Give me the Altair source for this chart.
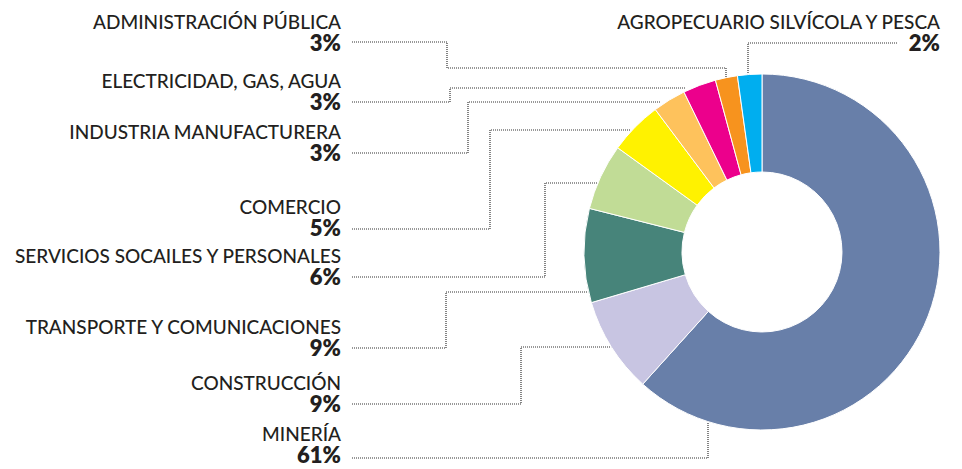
import altair as alt
import pandas as pd

# ---- data (clockwise from 12 o'clock) ----
sectors = ["MINERÍA", "CONSTRUCCIÓN", "TRANSPORTE Y COMUNICACIONES",
           "SERVICIOS SOCAILES Y PERSONALES", "COMERCIO", "INDUSTRIA MANUFACTURERA",
           "ELECTRICIDAD, GAS, AGUA", "ADMINISTRACIÓN PÚBLICA",
           "AGROPECUARIO SILVÍCOLA Y PESCA"]
shares = [61.5, 8.7, 8.5, 6.0, 4.8, 3.0, 3.0, 2.0, 2.2]      # slice sizes
pct_labels = ["61%", "9%", "9%", "6%", "5%", "3%", "3%", "3%", "2%"]
colors = ["#687fa9", "#c8c5e2", "#47847a", "#c1dc96", "#fff200",
          "#fec25c", "#ec008c", "#f7931e", "#00aeef"]

# ---- layout (image pixel coordinates) ----
W, H, M = 946, 461, 8
CX, CY, R_OUT, R_IN = 762, 252, 178, 80
# label: (pct baseline y, x anchor)
label_pos = {
    "ADMINISTRACIÓN PÚBLICA": (51, 341),
    "ELECTRICIDAD, GAS, AGUA": (110, 341),
    "INDUSTRIA MANUFACTURERA": (161, 341),
    "COMERCIO": (236, 341),
    "SERVICIOS SOCAILES Y PERSONALES": (285, 341),
    "TRANSPORTE Y COMUNICACIONES": (356, 341),
    "CONSTRUCCIÓN": (412, 341),
    "MINERÍA": (463, 341),
    "AGROPECUARIO SILVÍCOLA Y PESCA": (51, 940),
}
NAME_GAP = 22
leaders = {
    "ADMINISTRACIÓN PÚBLICA": [(352, 42), (447, 42), (447, 68), (726, 68), (726, 79)],
    "ELECTRICIDAD, GAS, AGUA": [(352, 102), (450, 102), (450, 88), (686, 88)],
    "INDUSTRIA MANUFACTURERA": [(352, 153), (468, 153), (468, 102), (660, 102)],
    "COMERCIO": [(352, 229), (490, 229), (490, 130), (630, 130)],
    "SERVICIOS SOCAILES Y PERSONALES": [(352, 277), (545, 277), (545, 183), (597, 183)],
    "TRANSPORTE Y COMUNICACIONES": [(352, 348), (446, 348), (446, 292), (588, 292)],
    "CONSTRUCCIÓN": [(352, 404), (521, 404), (521, 347), (612, 347)],
    "MINERÍA": [(352, 458), (708, 458), (708, 423)],
    "AGROPECUARIO SILVÍCOLA Y PESCA": [(897, 43), (748, 43), (748, 75)],
}

pie_df = pd.DataFrame({"sector": sectors, "share": shares,
                       "ord": list(range(len(sectors)))})

lab_rows = []
for s, p in zip(sectors, pct_labels):
    py, x = label_pos[s]
    lab_rows.append({"sector": s, "pct": p, "x": x, "ny": py - NAME_GAP, "py": py})
lab_df = pd.DataFrame(lab_rows)

lead_rows = []
for s, pts in leaders.items():
    for i, (x, y) in enumerate(pts):
        lead_rows.append({"sector": s, "i": i, "x": x, "y": y})
lead_df = pd.DataFrame(lead_rows)

xs = alt.Scale(domain=[M, M + W], range=[0, W], nice=False, zero=False)
ys = alt.Scale(domain=[M, M + H], range=[0, H], nice=False, zero=False)

pie = alt.Chart(pie_df).mark_arc(
    outerRadius=R_OUT, innerRadius=R_IN, stroke="white", strokeWidth=1
).encode(
    theta=alt.Theta("share:Q", stack=True),
    order=alt.Order("ord:Q"),
    color=alt.Color("sector:N", scale=alt.Scale(domain=sectors, range=colors), legend=None),
    x=alt.value(CX - M),
    y=alt.value(CY - M),
)

lines = alt.Chart(lead_df).mark_line(
    color="#333333", strokeWidth=1.2, strokeDash=[1, 1], interpolate="linear"
).encode(
    x=alt.X("x:Q", scale=xs, axis=None),
    y=alt.Y("y:Q", scale=ys, axis=None),
    detail="sector:N",
    order="i:Q",
)

names = alt.Chart(lab_df).mark_text(
    align="right", baseline="alphabetic", font="Lato", fontSize=19, fontWeight=500,
    color="#231f20"
).encode(
    x=alt.X("x:Q", scale=xs, axis=None),
    y=alt.Y("ny:Q", scale=ys, axis=None),
    text="sector:N",
)

pcts = alt.Chart(lab_df).mark_text(
    align="right", baseline="alphabetic", font="Lato", fontSize=22, fontWeight=800,
    color="#231f20"
).encode(
    x=alt.X("x:Q", scale=xs, axis=None),
    y=alt.Y("py:Q", scale=ys, axis=None),
    text="pct:N",
)

chart = alt.layer(lines, pie, names, pcts).properties(
    width=W, height=H, autosize=alt.AutoSizeParams(type="none"), padding=0,
    background="white"
).configure_view(stroke=None)

chart.save("out.html", embed_options={"renderer": "svg", "actions": False})
